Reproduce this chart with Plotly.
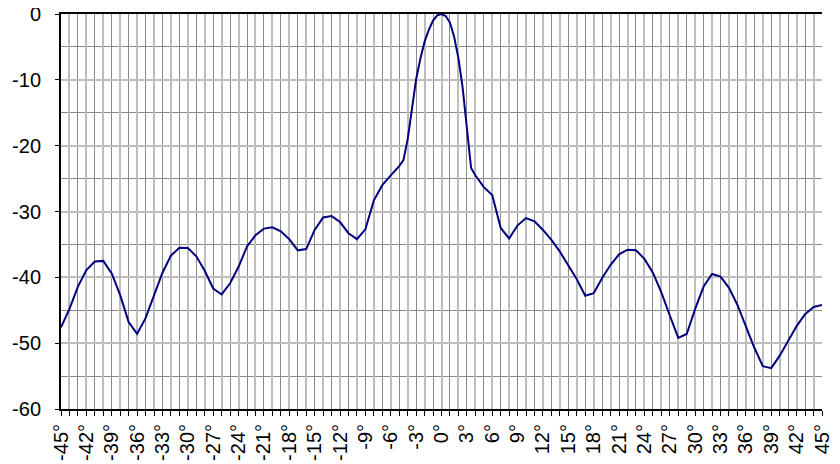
import plotly.graph_objects as go

# Angles (degrees) and relative level (dB)
angles = [-45, -44, -43, -42, -41, -40, -39, -38, -37, -36, -35, -34, -33, -32, -31,
          -30, -29, -28, -27, -26, -25, -24, -23, -22, -21, -20, -19, -18, -17, -16,
          -15, -14, -13, -12, -11, -10, -9, -8, -7, -6,
          -5, -4.5, -4, -3.5, -3, -2.5, -2, -1.5, -1, -0.5, 0, 0.5, 1, 1.5, 2, 2.5,
          3, 3.5, 4, 4.5, 5,
          6, 7, 8, 9, 10, 11, 12, 13, 14, 15, 16, 17, 18, 19, 20, 21, 22, 23, 24, 25,
          26, 27, 28, 29, 30, 31, 32, 33, 34, 35, 36, 37, 38, 39, 40, 41, 42, 43, 44, 45]
levels = [-47.6, -44.8, -41.4, -38.9, -37.6, -37.5, -39.4, -42.7, -46.8, -48.6, -46.2, -42.8, -39.3, -36.7, -35.5,
          -35.55, -36.8, -39.0, -41.7, -42.6, -40.9, -38.4, -35.3, -33.6, -32.6, -32.4, -33.0, -34.2, -35.9, -35.7,
          -32.8, -30.9, -30.7, -31.6, -33.3, -34.2, -32.7, -28.3, -26.0, -24.5,
          -23.1, -22.2, -19.0, -14.5, -9.9, -6.8, -4.2, -2.4, -1.0, -0.2, 0.0, -0.3, -1.3, -3.5, -6.7, -11.2,
          -17.5, -23.4, -24.5, -25.4, -26.3,
          -27.5, -32.5, -34.1, -32.1, -31.0, -31.5, -32.8, -34.3, -36.1, -38.2, -40.3, -42.8, -42.4, -40.1, -38.1,
          -36.5, -35.8, -35.9, -37.2, -39.3,
          -42.3, -45.8, -49.2, -48.6, -44.8, -41.4, -39.5, -39.9, -41.6, -44.2, -47.4, -50.7, -53.5, -53.8, -51.9,
          -49.6, -47.4, -45.6, -44.5, -44.2]

x_tick_vals = list(range(-45, 46, 3))
x_tick_text = [f"{v}°" for v in x_tick_vals]
y_tick_vals = list(range(-60, 1, 10))
y_tick_text = [str(v) for v in y_tick_vals]

FONT = "Liberation Sans, Arial, sans-serif"
LIGHT = "#bdbdbd"
DARK = "#8a8a8a"

fig = go.Figure()
# invisible trace to carry the grid axis
fig.add_trace(go.Scatter(x=angles, y=levels, xaxis="x2", yaxis="y", mode="lines",
                         line=dict(width=0), opacity=0, hoverinfo="skip", showlegend=False))
fig.add_trace(go.Scatter(x=angles, y=levels, mode="lines",
                         line=dict(color="#000080", width=2), showlegend=False))

fig.update_layout(
    width=832, height=456,
    margin=dict(l=53, r=18, t=6, b=55, autoexpand=False),
    paper_bgcolor="white", plot_bgcolor="white",
    font=dict(family=FONT, color="black"),
    xaxis=dict(
        range=[-45, 45], tickmode="array", tickvals=x_tick_vals, ticktext=x_tick_text,
        tickangle=-90, tickfont=dict(size=20, family=FONT), automargin=False,
        ticklabeloverflow="allow",
        showgrid=False, zeroline=False,
        showline=True, linecolor="black", linewidth=2, mirror=True,
        ticks="outside", ticklen=5, tickcolor="black", tickwidth=1,
        minor=dict(tickmode="linear", tick0=-45, dtick=1, ticks="outside", ticklen=5,
                   tickcolor="black", tickwidth=1, showgrid=False),
        fixedrange=True,
    ),
    xaxis2=dict(
        range=[-45, 45], overlaying="x", anchor="y", side="bottom", automargin=False,
        tickmode="linear", tick0=0, dtick=2,
        showgrid=True, gridcolor=LIGHT, gridwidth=2,
        minor=dict(tickmode="linear", tick0=-45, dtick=1, showgrid=True,
                   gridcolor=DARK, gridwidth=1, ticks=""),
        showticklabels=False, ticks="", showline=False, zeroline=False,
        fixedrange=True,
    ),
    yaxis=dict(
        range=[-60, 0], tickmode="array", tickvals=y_tick_vals, ticktext=y_tick_text,
        tickfont=dict(size=20, family=FONT), automargin=False,
        ticklabeloverflow="allow",
        showgrid=True, gridcolor=LIGHT, gridwidth=2,
        minor=dict(tickmode="linear", tick0=-55, dtick=10, showgrid=True,
                   gridcolor=DARK, gridwidth=1),
        zeroline=False,
        showline=True, linecolor="black", linewidth=2,
        ticks="outside", ticklen=4, tickcolor="black", tickwidth=1,
        ticklabelstandoff=10,
        fixedrange=True,
    ),
)

fig.write_html("out.html")
